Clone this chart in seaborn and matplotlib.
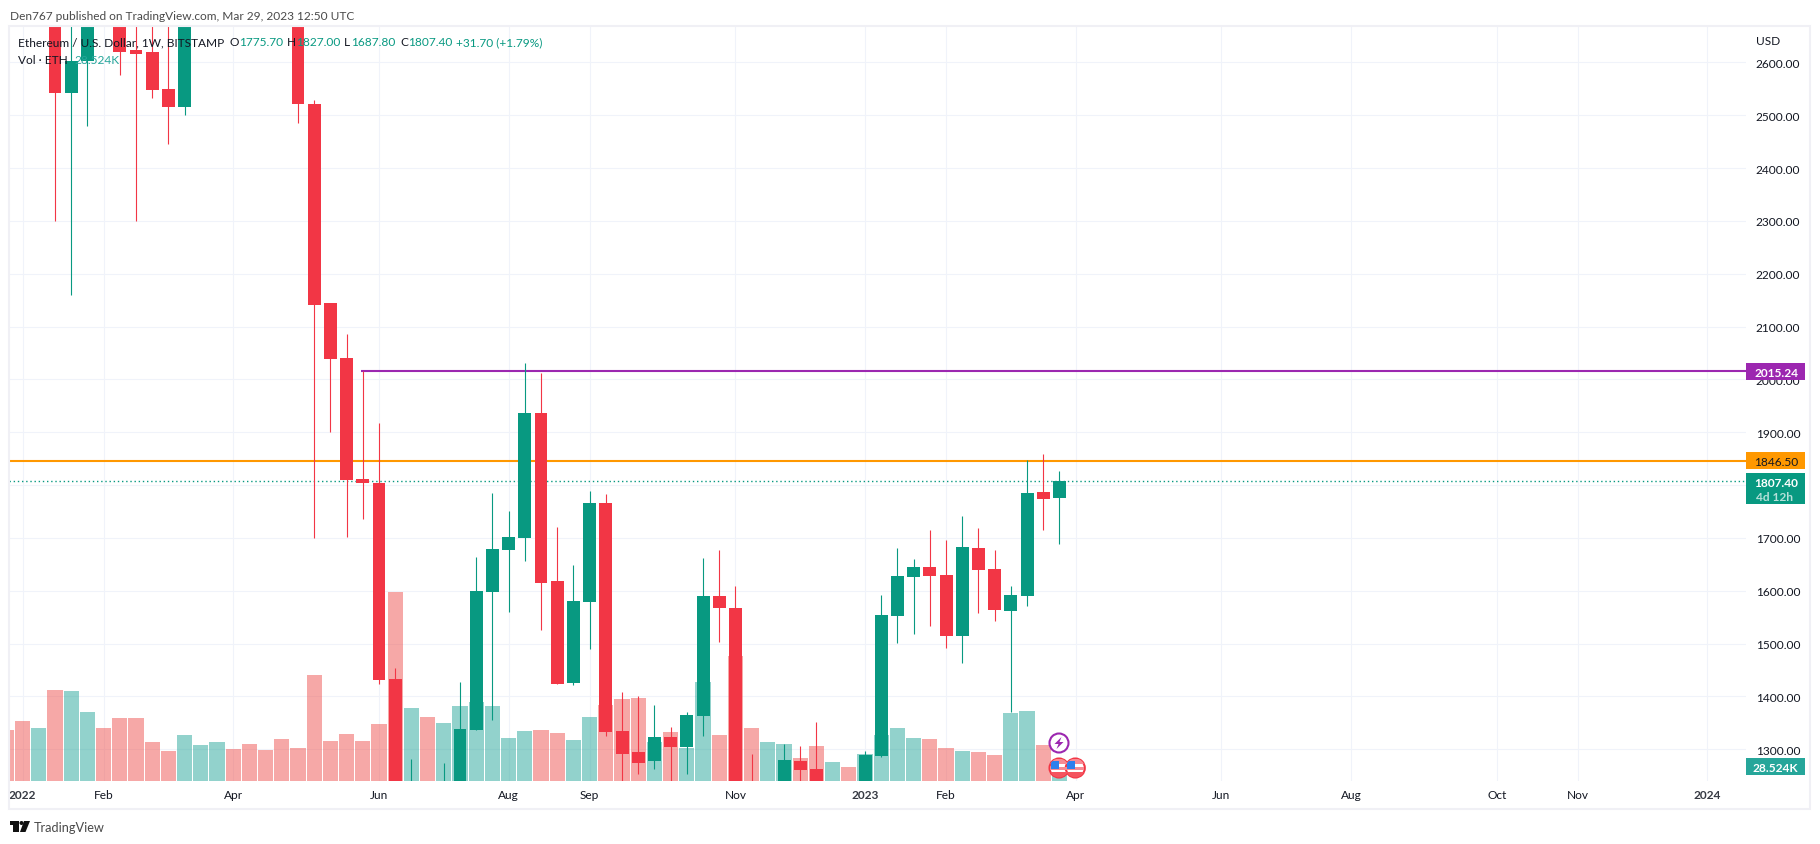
import matplotlib
matplotlib.use("Agg")
import numpy as np
import pandas as pd
import seaborn as sns
import matplotlib.pyplot as plt
from matplotlib.patches import Rectangle, Polygon, Circle

# ---------- data: weekly candles, BITSTAMP ETH/USD, week 0 = first week of 2022 ----------
opens  = [3780,3150,3330,2542,2602,3050,2950,2623,2620,2549,2516,2790,3110,3400,3280,3000,2960,2730,2522,
          2144,2040,1812,1804,1433,1120,1230,1070,1215,1337,1598,1677,1700,1936,1619,1426,1579,1766,1335,
          1295,1277,1323,1304,1363,1590,1567,1220,1200,1220,1278,1263,1180,1220,1195,1288,1553,1626,1645,
          1630,1515,1681,1641,1562,1590,1787,1775.7]
highs  = [3890,3420,3400,2790,3180,3290,3060,2990,2800,2700,2800,3140,3500,3580,3300,3190,3000,2800,2529,
          2144,2086,2016,1918,1453,1282,1235,1275,1427,1664,1785,1751,2031,2012,1721,1649,1789,1783,1408,
          1400,1383,1342,1371,1662,1677,1609,1291,1235,1310,1306,1352,1235,1230,1296,1592,1681,1660,1715,
          1697,1742,1719,1677,1609,1847,1859,1827]
lows   = [3050,3000,2300,2160,2480,2890,2576,2300,2533,2446,2501,2720,3050,3200,2880,2800,2700,2486,1700,
          1901,1702,1736,1424,880,1020,1000,1000,1200,1337,1356,1560,1656,1525,1424,1422,1489,1325,1220,
          1254,1263,1220,1254,1326,1504,1100,1150,1170,1200,1220,1160,1170,1190,1190,1286,1502,1519,1533,
          1492,1463,1558,1543,1371,1572,1715,1687.8]
closes = [3150,3330,2542,2602,3050,2950,2620,2616,2548,2516,2790,3110,3400,3280,3000,2960,2730,2522,2141,
          2039,1810,1804,1431,1125,1230,1070,1215,1338,1600,1680,1702,1936,1615,1424,1581,1766,1333,1291,
          1275,1323,1304,1365,1590,1567,1220,1215,1225,1280,1261,1200,1220,1200,1290,1554,1628,1645,1628,
          1515,1683,1640,1564,1592,1785,1774,1807.4]
# volume in thousands of ETH; volume_prev_k is the partly visible bar left of week 0
volume_prev_k = 104
volumes_k = [122,108,186,184,141,108,129,129,80,61,94,73,80,65,75,63,86,67,216,82,96,82,116,386,149,131,118,153,
             161,153,88,102,104,98,84,131,155,167,169,80,100,67,202,94,255,108,80,76,47,71,39,29,55,94,108,88,
             86,67,61,59,53,139,143,73,28.524]

y_ticks = [2600,2500,2400,2300,2200,2100,2000,1900,1800,1700,1600,1500,1400,1300]
x_tick_weeks  = [0,5,13,22,30,35,44,52,57,65,74,82,91,96,104]
x_tick_labels = ["2022","Feb","Apr","Jun","Aug","Sep","Nov","2023","Feb","Apr","Jun","Aug","Oct","Nov","2024"]
resistance = 2015.24
support = 1846.50
last_price = 1807.40

# ---------- styles ----------
RED, GREEN = "#F23645", "#089981"
VRED, VGREEN = "#EF5350", "#26A69A"
GRID, BORDER = "#F0F3FA", "#F0F0F5"
TXT = "#131722"
W, H = 1820, 845
FS = 8.6

sns.set_theme(style="white")
plt.rcParams["font.family"] = ["Lato", "DejaVu Sans"]

fig = plt.figure(figsize=(W/100, H/100), dpi=100, facecolor="white")
rect = [9/W, 1-782/H, (1746-9)/W, (782-27)/H]
ax_bg = fig.add_axes(rect, zorder=1)
ax_v = fig.add_axes(rect, zorder=2)
ax = fig.add_axes(rect, zorder=3)
xlim = (-0.84, 106.38)
ylim = (1240.1, 2668.7)

# grid + axes labels (the 1800 label sits under the last-price tag, so it stays empty)
ax_bg.set_xlim(xlim); ax_bg.set_ylim(ylim)
ax_bg.yaxis.tick_right()
ax_bg.set_yticks(y_ticks, ["" if v == 1800 else f"{v:.2f}" for v in y_ticks])
ax_bg.set_xticks(x_tick_weeks, x_tick_labels)
ax_bg.tick_params(axis="y", length=0, pad=7, labelsize=FS, labelcolor=TXT)
ax_bg.tick_params(axis="x", length=0, pad=5.5, labelsize=FS, labelcolor=TXT)
for lab, t in zip(ax_bg.get_xticklabels(), x_tick_labels):
    if t.isdigit():
        lab.set_fontweight("bold"); lab.set_alpha(.85)
ax_bg.grid(True, color=GRID, lw=0.75)
ax_bg.set_axisbelow(True)
sns.despine(ax=ax_bg, left=True, right=True, top=True, bottom=True)

# candles table
df = pd.DataFrame({"week": np.arange(len(closes)), "open": opens, "high": highs, "low": lows, "close": closes})
df = df.assign(up=df.close >= df.open, color=lambda d: np.where(d.close >= d.open, GREEN, RED))

# volume
df_v = pd.DataFrame({"week": np.arange(-1, len(closes)),
                     "volume": [volume_prev_k] + volumes_k,
                     "direction": ["down"] + ["up" if u else "down" for u in df.up]})
sns.barplot(df_v, x="week", y="volume", hue="direction", hue_order=["up","down"],
            palette={"up": VGREEN, "down": VRED}, native_scale=True, dodge=False, width=0.93,
            saturation=1, alpha=0.5, linewidth=0, errorbar=None, legend=False, ax=ax_v)
ax_v.set_xlim(xlim); ax_v.set_ylim(0, 755/0.49)
ax_v.axis("off"); ax_v.patch.set_alpha(0)

ax.hlines(support, xlim[0], xlim[1], color="#FF9800", lw=1.5, zorder=1)
ax.hlines(resistance, 20.9, xlim[1], color="#9C27B0", lw=1.5, zorder=1)
ax.axhline(last_price, color=GREEN, lw=1, ls=(0,(1,2)), zorder=1)
ax.vlines(df.week, df.low, df.high, colors=df.color, lw=0.8, zorder=2)
ax.bar(df.week, (df.close-df.open).abs(), bottom=df[["open","close"]].min(axis=1), width=0.8,
       color=df.color, linewidth=0, zorder=3)
ax.set_xlim(xlim); ax.set_ylim(ylim)
ax.axis("off"); ax.patch.set_alpha(0)

# overlay in pixel coordinates
ov = fig.add_axes([0,0,1,1], zorder=5); ov.set_xlim(0,W); ov.set_ylim(H,0); ov.axis("off"); ov.patch.set_alpha(0)
ov.add_patch(Rectangle((8.5,26.5), 1801, 783.5, fill=False, ec=BORDER, lw=1.5))

def tag(y0, y1, color, txt, tc, weight="normal"):
    ov.add_patch(Rectangle((1746,y0), 59, y1-y0, fc=color, ec="none"))
    ov.text(1798, (y0+y1)/2, txt, color=tc, fontsize=FS, ha="right", va="center_baseline", weight=weight)

tag(364, 381, "#9C27B0", f"{resistance:.2f}", "white", "bold")
tag(453, 470, "#FF9800", f"{support:.2f}", TXT)
ov.add_patch(Rectangle((1746,474), 59, 31, fc=GREEN, ec="none"))
ov.text(1798, 482.5, f"{last_price:.2f}", color="white", fontsize=FS, ha="right", va="center_baseline", weight="bold")
ov.text(1756, 497, "4d 12h", color="#B5E0D9", fontsize=FS, ha="left", va="center_baseline", weight="bold")
tag(759, 776, VGREEN, "28.524K", "white", "bold")
ov.text(1756, 40.5, "USD", color=TXT, fontsize=FS, ha="left", va="center_baseline")

HDR = "#4A4A4A"
ov.text(10, 15, "Den767 published on TradingView.com, Mar 29, 2023 12:50 UTC", color=HDR, fontsize=FS,
        ha="left", va="center_baseline")
ov.text(18, 42, "Ethereum / U.S. Dollar, 1W, BITSTAMP", color=TXT, fontsize=FS, ha="left", va="center_baseline")
for x, s, c in [(230,"O",TXT),(239,"1775.70",GREEN),(287,"H",TXT),(296,"1827.00",GREEN),(344,"L",TXT),
                (351,"1687.80",GREEN),(400,"C",TXT),(408,"1807.40",GREEN),(456,"+31.70 (+1.79%)",GREEN)]:
    ov.text(x, 42, s, color=c, fontsize=FS, ha="left", va="center_baseline")
ov.text(18, 59, "Vol · ETH", color=TXT, fontsize=FS, ha="left", va="center_baseline")
ov.text(74, 59, "28.524K", color=VGREEN, fontsize=FS, ha="left", va="center_baseline")

# footer logo + name
ov.add_patch(Rectangle((10,822),8,4,fc="#111",ec="none"))
ov.add_patch(Rectangle((13,822),5.5,11,fc="#111",ec="none"))
ov.add_patch(Circle((21.5,824),2,fc="#111",ec="none"))
ov.add_patch(Polygon([[24,822],[30,822],[25.5,833],[20,833]],fc="#111",ec="none"))
ov.text(33.5, 827.5, "TradingView", color=HDR, fontsize=9.2, ha="left", va="center_baseline")

# event icons
ov.add_patch(Circle((1059,744),9.5,fc="white",ec="#9C27B0",lw=1.5))
ov.add_patch(Polygon([[1061.5,738],[1054.5,745],[1058.5,745],[1056.5,750],[1063.5,743],[1059.5,743]],
                     fc="#9C27B0",ec="none"))
for cx in (1059,1075.3):
    c = Circle((cx,769),9.5,fc="white",ec=RED,lw=1.5,zorder=6)
    ov.add_patch(c)
    s0 = Rectangle((cx-9,760),18,5,fc="#F78B94",ec="none",zorder=6.1); ov.add_patch(s0)
    s1 = Rectangle((cx-9,768),18,2.5,fc="#F78B94",ec="none",zorder=6.1); ov.add_patch(s1)
    s2 = Rectangle((cx-9,773),18,6,fc="#F4545F",ec="none",zorder=6.1); ov.add_patch(s2)
    s3 = Rectangle((cx-8,762),8,8,fc="#2F80ED",ec="none",zorder=6.2); ov.add_patch(s3)
    for s in (s0,s1,s2,s3):
        s.set_clip_path(c)

fig.savefig("out.png", dpi=100, facecolor="white")
